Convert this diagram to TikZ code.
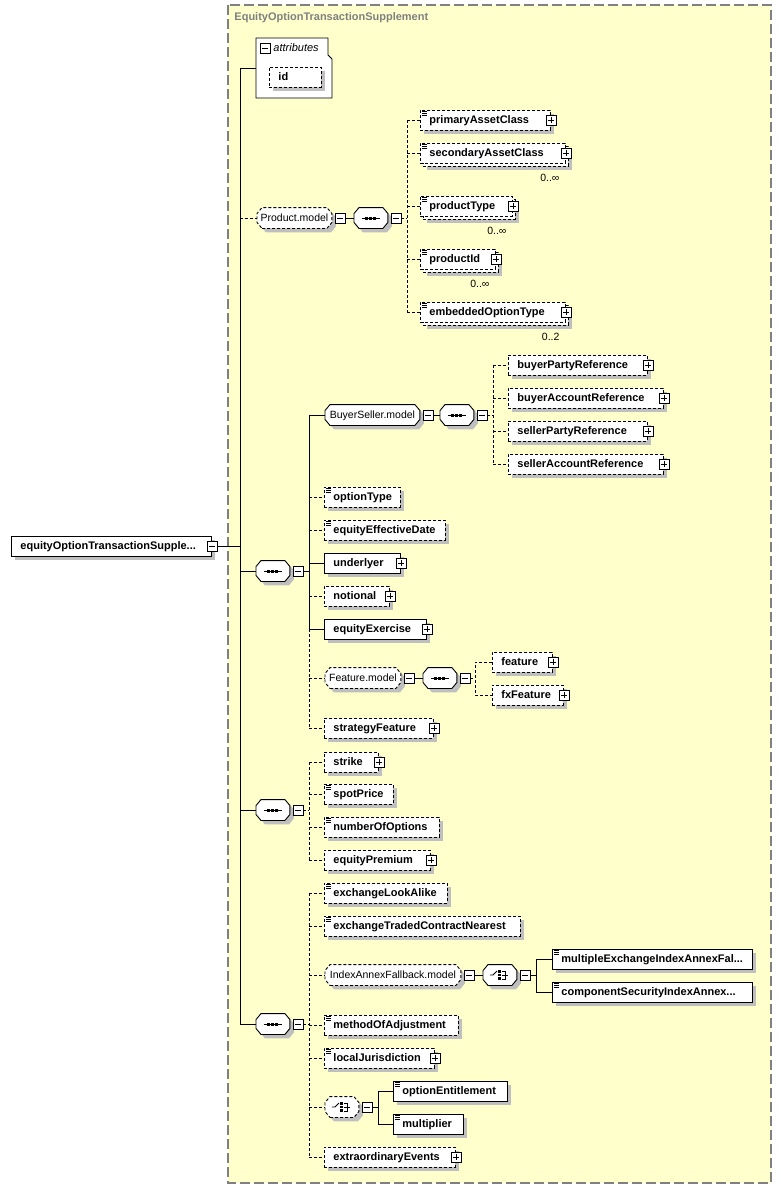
\documentclass[tikz,border=0pt]{standalone}
\usepackage{fontspec}
\setmainfont{Liberation Sans}
\usetikzlibrary{shadows}
\definecolor{cyel}{RGB}{255,255,204}
\definecolor{cgry}{RGB}{128,128,128}
\newcommand{\elemfont}{\fontsize{11}{13}\selectfont\bfseries}
\newcommand{\grpfont}{\fontsize{10.5}{12}\selectfont}
% octagon for model groups and compositors
\makeatletter
\pgfdeclareshape{octbox}{
	\inheritsavedanchors[from=rectangle]
	\inheritanchorborder[from=rectangle]
	\inheritanchor[from=rectangle]{center}
	\inheritanchor[from=rectangle]{north}
	\inheritanchor[from=rectangle]{south}
	\inheritanchor[from=rectangle]{west}
	\inheritanchor[from=rectangle]{east}
	\inheritanchor[from=rectangle]{north west}
	\inheritanchor[from=rectangle]{north east}
	\inheritanchor[from=rectangle]{south west}
	\inheritanchor[from=rectangle]{south east}
	\backgroundpath{
		\southwest \edef\oxa{\the\pgf@x}\edef\oya{\the\pgf@y}
		\northeast \edef\oxb{\the\pgf@x}\edef\oyb{\the\pgf@y}
		\pgfpathmoveto{\pgfpoint{\oxa+5pt}{\oya}}
		\pgfpathlineto{\pgfpoint{\oxb-5pt}{\oya}}
		\pgfpathlineto{\pgfpoint{\oxb}{\oya+6pt}}
		\pgfpathlineto{\pgfpoint{\oxb}{\oyb-6pt}}
		\pgfpathlineto{\pgfpoint{\oxb-5pt}{\oyb}}
		\pgfpathlineto{\pgfpoint{\oxa+5pt}{\oyb}}
		\pgfpathlineto{\pgfpoint{\oxa}{\oyb-6pt}}
		\pgfpathlineto{\pgfpoint{\oxa}{\oya+6pt}}
		\pgfpathclose
	}
}
\makeatother
\tikzset{
	dsh/.style={dash pattern=on 3pt off 2pt},
	shd/.style={drop shadow={shadow xshift=4pt,shadow yshift=-4pt,fill=black!25,opacity=1}},
	mshd/.style={drop shadow={shadow xshift=7pt,shadow yshift=-7pt,fill=black!25,opacity=1},
		copy shadow={shadow xshift=3pt,shadow yshift=-3pt,draw=black,fill=white,dsh}},
	ebox/.style={rectangle,draw,fill=white,anchor=west,minimum height=20pt,inner xsep=9pt,inner ysep=0pt,
		text width=#1,text height=8pt,text depth=2pt,align=left,font=\elemfont},
	req/.style={ebox=#1,shd},
	opt/.style={ebox=#1,dsh,shd},
	mopt/.style={ebox=#1,dsh,mshd},
	smp/.style={path picture={\draw[black,solid,line width=0.8pt]
		([xshift=2pt,yshift=-1.5pt]path picture bounding box.north west) -- +(5pt,0pt)
		([xshift=2pt,yshift=-3.5pt]path picture bounding box.north west) -- +(5pt,0pt)
		([xshift=2pt,yshift=-5.5pt]path picture bounding box.north west) -- +(5pt,0pt);}},
	pmbox/.style={rectangle,draw,solid,fill=white,minimum size=10pt,inner sep=0pt,line width=0.8pt,
		drop shadow={shadow xshift=1.2pt,shadow yshift=-1.2pt,fill=black,opacity=1}},
	mbox/.style={pmbox,path picture={\draw[line width=0.8pt]
		([xshift=2pt]path picture bounding box.west) -- ([xshift=-2pt]path picture bounding box.east);}},
	pbox/.style={pmbox,path picture={\draw[line width=0.8pt]
		([xshift=2pt]path picture bounding box.west) -- ([xshift=-2pt]path picture bounding box.east)
		([yshift=-2pt]path picture bounding box.north) -- ([yshift=2pt]path picture bounding box.south);}},
	grp/.style={octbox,draw,fill=white,anchor=west,minimum height=20pt,minimum width=#1,inner sep=0pt,
		text height=8pt,text depth=2pt,font=\grpfont,shd},
	seqsym/.style={path picture={
		\draw[black,solid,line width=1pt] ([xshift=-9pt]path picture bounding box.center) -- ([xshift=9pt]path picture bounding box.center);
		\foreach \d in {-4,0,4}
			\fill[black] ([xshift=\d pt]path picture bounding box.center) ++(-1.5pt,-1.5pt) rectangle ++(3pt,3pt);}},
	chosym/.style={path picture={
		\coordinate (cc) at (path picture bounding box.center);
		\draw[black,solid,line width=0.9pt] ([xshift=-10pt]cc) -- ([xshift=-7pt]cc) -- ([xshift=-3pt,yshift=4pt]cc);
		\foreach \d in {-3.5,0,3.5}
			\fill[black] ([xshift=-0.5pt,yshift=\d pt]cc) ++(-1.2pt,-1.2pt) rectangle ++(2.4pt,2.4pt);
		\draw[black,solid,line width=0.9pt] ([xshift=2pt,yshift=4pt]cc) -- ([xshift=5.5pt,yshift=4pt]cc)
			-- ([xshift=5.5pt,yshift=-4pt]cc) -- ([xshift=2pt,yshift=-4pt]cc)
			([xshift=2pt]cc) -- ([xshift=8.5pt]cc);}},
	seqbox/.style={grp=33pt,seqsym},
	chobox/.style={grp=33pt,chosym},
	occ/.style={font=\grpfont,anchor=east,inner sep=0pt}
}
\begin{document}
\begin{tikzpicture}[x=1pt,y=-1pt,line width=0.9pt]
	\useasboundingbox (0,0) rectangle (781,1189);
	\draw[cgry,line width=1.3pt,dash pattern=on 10pt off 4pt,fill=cyel] (228,5) rectangle (771,1183);
	\node[anchor=west,text=cgry,font=\elemfont,inner sep=0pt] (ttl) at (234,18) {EquityOptionTransactionSupplement};
	
	% root
	\node[req=182pt] (root) at (11,546) {equityOptionTransactionSupple...};
	\node[mbox] (root-m) at (root.east) {};
	
	% attributes
	\draw[fill=white] (256,38) -- (328,38) -- (328,55) -- (332,59) -- (332,98) -- (256,98) -- cycle;
	\coordinate (attr) at (256,68);
	\node[mbox] (attr-m) at (265,48) {};
	\node[anchor=west,font=\fontsize{11}{13}\selectfont\itshape,inner sep=0pt] (attr-t) at (273,48) {attributes};
	\node[opt=34pt] (id) at (269,77) {id};
	
	% Product.model
	\node[grp=74pt,dsh] (pm) at (257,218) {Product.model};
	\node[mbox] (pm-m) at ([xshift=8pt]pm.east) {};
	\node[seqbox] (pmq) at (354,218) {};
	\node[mbox] (pmq-m) at ([xshift=8pt]pmq.east) {};
	\node[opt=112pt,smp] (pac) at (420,120) {primaryAssetClass};
	\node[mopt=127pt,smp] (sac) at (420,153) {secondaryAssetClass};
	\node[mopt=74pt,smp] (ptype) at (420,206) {productType};
	\node[mopt=57pt,smp] (pid) at (420,259) {productId};
	\node[mopt=127pt,smp] (eot) at (420,312) {embeddedOptionType};
	\foreach \n in {pac,sac,ptype,pid,eot} \node[pbox] (\n-p) at (\n.east) {};
	\node[occ] (sac-o) at ([xshift=-6pt,yshift=-14pt]sac.south east) {0..∞};
	\node[occ] (ptype-o) at ([xshift=-6pt,yshift=-14pt]ptype.south east) {0..∞};
	\node[occ] (pid-o) at ([xshift=-6pt,yshift=-14pt]pid.south east) {0..∞};
	\node[occ] (eot-o) at ([xshift=-6pt,yshift=-14pt]eot.south east) {0..2};
	
	% sequence 1
	\node[seqbox] (s1) at (256,571) {};
	\node[mbox] (s1-m) at ([xshift=8pt]s1.east) {};
	\node[grp=94pt] (bsm) at (325,415) {BuyerSeller.model};
	\node[mbox] (bsm-m) at ([xshift=8pt]bsm.east) {};
	\node[seqbox] (bsq) at (440,415) {};
	\node[mbox] (bsq-m) at ([xshift=8pt]bsq.east) {};
	\node[opt=121pt] (bpr) at (508,365) {buyerPartyReference};
	\node[opt=137pt] (bar) at (508,398) {buyerAccountReference};
	\node[opt=121pt] (spr) at (508,431) {sellerPartyReference};
	\node[opt=137pt] (sar) at (508,464) {sellerAccountReference};
	\node[opt=58pt,smp] (opty) at (324,497) {optionType};
	\node[opt=103pt,smp] (eed) at (324,530) {equityEffectiveDate};
	\node[req=58pt] (und) at (324,563) {underlyer};
	\node[opt=47pt] (ntl) at (324,596) {notional};
	\node[req=84pt] (eex) at (324,629) {equityExercise};
	\node[grp=75pt,dsh] (fm) at (325,678) {Feature.model};
	\node[mbox] (fm-m) at ([xshift=8pt]fm.east) {};
	\node[seqbox] (fmq) at (423,678) {};
	\node[mbox] (fmq-m) at ([xshift=8pt]fmq.east) {};
	\node[opt=42pt] (feat) at (492,662) {feature};
	\node[opt=53pt] (fxf) at (492,695) {fxFeature};
	\node[opt=91pt] (sft) at (324,728) {strategyFeature};
	\foreach \n in {bpr,bar,spr,sar,und,ntl,eex,feat,fxf,sft} \node[pbox] (\n-p) at (\n.east) {};
	
	% sequence 2
	\node[seqbox] (s2) at (256,810) {};
	\node[mbox] (s2-m) at ([xshift=8pt]s2.east) {};
	\node[opt=36pt] (stk) at (324,762) {strike};
	\node[opt=51pt,smp] (spp) at (324,794) {spotPrice};
	\node[opt=97pt,smp] (noo) at (324,827) {numberOfOptions};
	\node[opt=88pt] (eqp) at (324,860) {equityPremium};
	\foreach \n in {stk,eqp} \node[pbox] (\n-p) at (\n.east) {};
	
	% sequence 3
	\node[seqbox] (s3) at (256,1024) {};
	\node[mbox] (s3-m) at ([xshift=8pt]s3.east) {};
	\node[opt=105pt,smp] (ela) at (324,893) {exchangeLookAlike};
	\node[opt=178pt,smp] (etcn) at (324,926) {exchangeTradedContractNearest};
	\node[grp=135pt,dsh] (iam) at (325,975) {IndexAnnexFallback.model};
	\node[mbox] (iam-m) at ([xshift=8pt]iam.east) {};
	\node[chobox] (iac) at (483,975) {};
	\node[mbox] (iac-m) at ([xshift=8pt]iac.east) {};
	\node[req=182pt,smp] (mei) at (552,959) {multipleExchangeIndexAnnexFal...};
	\node[req=182pt,smp] (csi) at (552,992) {componentSecurityIndexAnnex...};
	\node[opt=116pt,smp] (moa) at (324,1025) {methodOfAdjustment};
	\node[opt=92pt,smp] (lj) at (324,1058) {localJurisdiction};
	\node[chobox,dsh] (ch2) at (325,1107) {};
	\node[mbox] (ch2-m) at ([xshift=8pt]ch2.east) {};
	\node[req=96pt,smp] (oe) at (393,1091) {optionEntitlement};
	\node[req=52pt,smp] (mlt) at (393,1124) {multiplier};
	\node[opt=113pt] (exe) at (324,1157) {extraordinaryEvents};
	\foreach \n in {lj,exe} \node[pbox] (\n-p) at (\n.east) {};
	
	% connectors
	\coordinate (sp) at (240,0);
	\coordinate (b1) at (407,0);
	\coordinate (b2) at (493,0);
	\coordinate (b3) at (309,0);
	\coordinate (b4) at (475,0);
	\coordinate (b7) at (536,0);
	\coordinate (b8) at (378,0);
	\draw (attr) -- (attr -| sp) -- (s3.west -| sp) -- (s3.west);
	\draw (root-m.east) -- (root-m.east -| sp);
	\draw (s1.west -| sp) -- (s1.west);
	\draw (s2.west -| sp) -- (s2.west);
	\draw[dsh] (pm.west -| sp) -- (pm.west);
	
	\draw (pm-m.east) -- (pmq.west);
	\draw[dsh] (pmq-m.east) -- (pmq-m.east -| b1);
	\draw[dsh] (pac.west -| b1) -- (eot.west -| b1);
	\foreach \n in {pac,sac,ptype,pid,eot} \draw[dsh] (\n.west -| b1) -- (\n.west);
	
	\draw (s1-m.east) -- (s1-m.east -| b3);
	\draw (bsm.west -| b3) -- (eex.west -| b3);
	\draw[dsh] (eex.west -| b3) -- (sft.west -| b3);
	\foreach \n in {bsm,und,eex} \draw (\n.west -| b3) -- (\n.west);
	\foreach \n in {opty,eed,ntl,fm,sft} \draw[dsh] (\n.west -| b3) -- (\n.west);
	
	\draw (bsm-m.east) -- (bsq.west);
	\draw[dsh] (bsq-m.east) -- (bsq-m.east -| b2);
	\draw[dsh] (bpr.west -| b2) -- (sar.west -| b2);
	\foreach \n in {bpr,bar,spr,sar} \draw[dsh] (\n.west -| b2) -- (\n.west);
	
	\draw (fm-m.east) -- (fmq.west);
	\draw[dsh] (fmq-m.east) -- (fmq-m.east -| b4);
	\draw[dsh] (feat.west) -| (b4 |- fxf.west) -- (fxf.west);
	
	\draw[dsh] (s2-m.east) -- (s2-m.east -| b3);
	\draw[dsh] (stk.west -| b3) -- (eqp.west -| b3);
	\foreach \n in {stk,spp,noo,eqp} \draw[dsh] (\n.west -| b3) -- (\n.west);
	
	\draw[dsh] (s3-m.east) -- (s3-m.east -| b3);
	\draw[dsh] (ela.west -| b3) -- (exe.west -| b3);
	\foreach \n in {ela,etcn,iam,moa,lj,ch2,exe} \draw[dsh] (\n.west -| b3) -- (\n.west);
	
	\draw (iam-m.east) -- (iac.west);
	\draw (iac-m.east) -- (iac-m.east -| b7);
	\draw (mei.west) -| (b7 |- csi.west) -- (csi.west);
	
	\draw (ch2-m.east) -- (ch2-m.east -| b8);
	\draw (oe.west) -| (b8 |- mlt.west) -- (mlt.west);
\end{tikzpicture}
\end{document}
